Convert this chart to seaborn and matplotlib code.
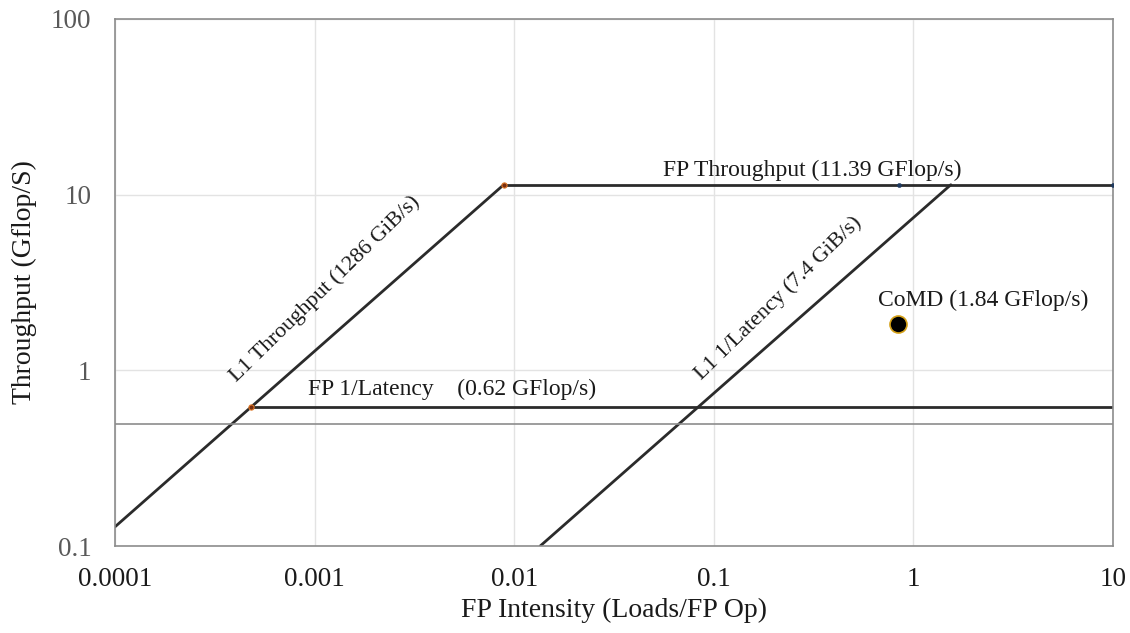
import numpy as np
import pandas as pd
import seaborn as sns
import matplotlib.pyplot as plt

# roofline segments (x = FP intensity, y = GFlop/s)
l1_tp_x = [0.0001, 0.00886]
l1_tp_y = [0.1286, 11.39]
l1_lat_x = [0.0135, 1.54]
l1_lat_y = [0.1, 11.39]
fp_tp_x = [0.00886, 10]
fp_tp_y = [11.39, 11.39]
fp_lat_x = [0.00048, 10]
fp_lat_y = [0.62, 0.62]
ref_level = 0.495

corner_x = [0.00886, 0.00048]
corner_y = [11.39, 0.62]
blue_x = [0.85, 10]
blue_y = [11.39, 11.39]

comd_x = [0.84]
comd_y = [1.84]

sns.set_theme(style="whitegrid")
plt.rcParams['font.family'] = ['Liberation Serif', 'DejaVu Serif']

fig = plt.figure(figsize=(11.3, 6.33), dpi=100)
ax = fig.add_axes([115/1130, 1-546/633, (1113-115)/1130, (546-19)/633])
ax.set_xscale('log')
ax.set_yscale('log')
ax.set_xlim(0.0001, 10)
ax.set_ylim(0.1, 100)

line_kw = dict(color='#2b2b2b', linewidth=2.0, ax=ax, legend=False)
segs = [(l1_tp_x, l1_tp_y), (l1_lat_x, l1_lat_y), (fp_tp_x, fp_tp_y), (fp_lat_x, fp_lat_y)]
for xs, ys in segs:
    sns.lineplot(x=xs, y=ys, **line_kw)
ax.axhline(ref_level, color='#8c8c8c', linewidth=1.2)

sns.scatterplot(x=corner_x, y=corner_y, color='#7a2e0e', edgecolor='#e07a2a', s=14, linewidth=0.8, ax=ax, zorder=5)
sns.scatterplot(x=blue_x, y=blue_y, color='#1f3a5f', edgecolor='#1f3a5f', s=10, ax=ax, zorder=5)
sns.scatterplot(x=comd_x, y=comd_y, color='black', edgecolor='#d4a017', s=150, linewidth=1.2, ax=ax, zorder=6)

ax.grid(True, which='major', color='#e3e3e3', linewidth=1)
ax.grid(False, which='minor')
ax.minorticks_off()
for sp in ax.spines.values():
    sp.set_color('#8c8c8c')
    sp.set_linewidth(1.2)

ax.set_xticks([0.0001, 0.001, 0.01, 0.1, 1, 10])
ax.set_xticklabels(['0.0001', '0.001', '0.01', '0.1', '1', '10'], fontsize=19.5, color='#1a1a1a')
ax.set_yticks([0.1, 1, 10, 100])
ax.set_yticklabels(['0.1', '1', '10', '100'], fontsize=19.5, color='#595959')
ax.tick_params(axis='y', length=0, pad=17)
ax.tick_params(axis='x', length=0, pad=15)
ax.set_xlabel('FP Intensity (Loads/FP Op)', fontsize=20, color='#1a1a1a', labelpad=4)
ax.set_ylabel('Throughput (Gflop/S)', fontsize=20, color='#1a1a1a', labelpad=10)

# slope of the diagonals on screen
p1 = ax.transData.transform((l1_tp_x[0], l1_tp_y[0]))
p2 = ax.transData.transform((l1_tp_x[1], l1_tp_y[1]))
ang = np.degrees(np.arctan2(p2[1]-p1[1], p2[0]-p1[0])) + 3

txt_kw = dict(fontsize=17, color='#1a1a1a')
rot_kw = dict(fontsize=16, color='#1a1a1a')
ax.text(0.00113, 2.9, 'L1 Throughput (1286 GiB/s)', rotation=ang, ha='center', va='center', **rot_kw)
ax.text(0.21, 2.58, 'L1 1/Latency (7.4 GiB/s)', rotation=ang, ha='center', va='center', **rot_kw)
ax.text(0.0556, 13.8, 'FP Throughput (11.39 GFlop/s)', ha='left', va='center', **txt_kw)
ax.text(0.00093, 0.78, 'FP 1/Latency    (0.62 GFlop/s)', ha='left', va='center', **txt_kw)
ax.text(0.665, 2.51, 'CoMD (1.84 GFlop/s)', ha='left', va='center', **txt_kw)

fig.savefig('out.png', dpi=100)
